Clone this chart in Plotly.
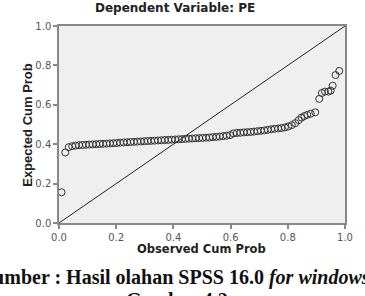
import plotly.graph_objects as go

observed = [0.009, 0.022, 0.034, 0.046, 0.058, 0.070, 0.082, 0.094, 0.106, 0.118,
            0.130, 0.142, 0.154, 0.166, 0.178, 0.190, 0.202, 0.214, 0.226, 0.238,
            0.250, 0.262, 0.274, 0.286, 0.298, 0.310, 0.322, 0.334, 0.346, 0.358,
            0.370, 0.382, 0.394, 0.406, 0.418, 0.430, 0.442, 0.454, 0.466, 0.478,
            0.490, 0.502, 0.514, 0.526, 0.538, 0.550, 0.562, 0.574, 0.586, 0.598,
            0.610, 0.622, 0.634, 0.646, 0.658, 0.670, 0.682, 0.694, 0.706, 0.718,
            0.730, 0.742, 0.754, 0.766, 0.778, 0.790, 0.802, 0.814, 0.826, 0.838,
            0.848, 0.858, 0.868, 0.880, 0.896, 0.910, 0.919, 0.930, 0.942, 0.950,
            0.957, 0.967, 0.980]
expected = [0.156, 0.358, 0.385, 0.390, 0.393, 0.395, 0.396, 0.397, 0.398, 0.399,
            0.400, 0.401, 0.402, 0.403, 0.404, 0.405, 0.406, 0.408, 0.409, 0.410,
            0.411, 0.412, 0.413, 0.414, 0.415, 0.416, 0.417, 0.418, 0.419, 0.420,
            0.421, 0.422, 0.423, 0.424, 0.425, 0.426, 0.427, 0.428, 0.429, 0.430,
            0.431, 0.432, 0.433, 0.434, 0.436, 0.437, 0.439, 0.441, 0.443, 0.446,
            0.455, 0.457, 0.458, 0.460, 0.461, 0.462, 0.464, 0.466, 0.468, 0.470,
            0.473, 0.476, 0.478, 0.480, 0.482, 0.485, 0.490, 0.497, 0.507, 0.522,
            0.535, 0.543, 0.549, 0.555, 0.562, 0.630, 0.660, 0.667, 0.667, 0.672,
            0.697, 0.751, 0.772]
diag = [0.0, 1.0]
tick_vals = [0.0, 0.2, 0.4, 0.6, 0.8, 1.0]
tick_text = ["0.0", "0.2", "0.4", "0.6", "0.8", "1.0"]

fig = go.Figure()
fig.add_trace(go.Scatter(x=diag, y=diag, mode="lines",
                         line=dict(color="#222222", width=1), hoverinfo="skip"))
fig.add_trace(go.Scatter(x=observed, y=expected, mode="markers",
                         marker=dict(symbol="circle-open", size=7,
                                     color="#333333", line=dict(width=1, color="#333333"))))

L, R, T, B = 59, 13, 26, 73
W, H = 365, 296
pw, ph = W - L - R, H - T - B

def px(x):
    return (x - L) / pw

def py(y):
    return (H - B - y) / ph

axis_common = dict(range=[0, 1], tickvals=tick_vals, ticktext=tick_text,
                   ticks="outside", ticklen=4, tickcolor="#888888", tickwidth=1.5,
                   showline=True, linecolor="#888888", linewidth=1.5, mirror=True,
                   showgrid=False, zeroline=False,
                   tickfont=dict(family="DejaVu Sans", size=10, color="#555555"))

fig.update_layout(
    width=W, height=H,
    margin=dict(l=L, r=R, t=T, b=B, pad=0),
    paper_bgcolor="white", plot_bgcolor="#efefef",
    showlegend=False,
    xaxis=dict(**axis_common),
    yaxis=dict(**axis_common),
    annotations=[
        dict(text="<b>Dependent Variable: PE</b>", xref="paper", yref="paper",
             x=px(178), y=py(8), xanchor="center", yanchor="middle", showarrow=False,
             font=dict(family="DejaVu Sans", size=12, color="#222222")),
        dict(text="<b>Observed Cum Prob</b>", xref="paper", yref="paper",
             x=px(205), y=py(249), xanchor="center", yanchor="middle", showarrow=False,
             font=dict(family="DejaVu Sans", size=11.5, color="#222222")),
        dict(text="<b>Expected Cum Prob</b>", xref="paper", yref="paper",
             x=px(26), y=py(125), xanchor="center", yanchor="middle", showarrow=False,
             textangle=-90,
             font=dict(family="Liberation Sans Narrow, Arial Narrow, Arial", size=13, color="#222222")),
        dict(text="<b>Sumber : Hasil olahan SPSS 16.0 <i>for windows</i></b>", xref="paper", yref="paper",
             x=px(179), y=py(277), xanchor="center", yanchor="middle", showarrow=False,
             font=dict(family="Liberation Serif, Times New Roman", size=20, color="#111111")),
        dict(text="<b>Gambar 4.2</b>", xref="paper", yref="paper",
             x=px(180), y=py(300), xanchor="center", yanchor="middle", showarrow=False,
             font=dict(family="Liberation Serif, Times New Roman", size=20, color="#111111")),
    ],
)

fig.write_html("out.html")
